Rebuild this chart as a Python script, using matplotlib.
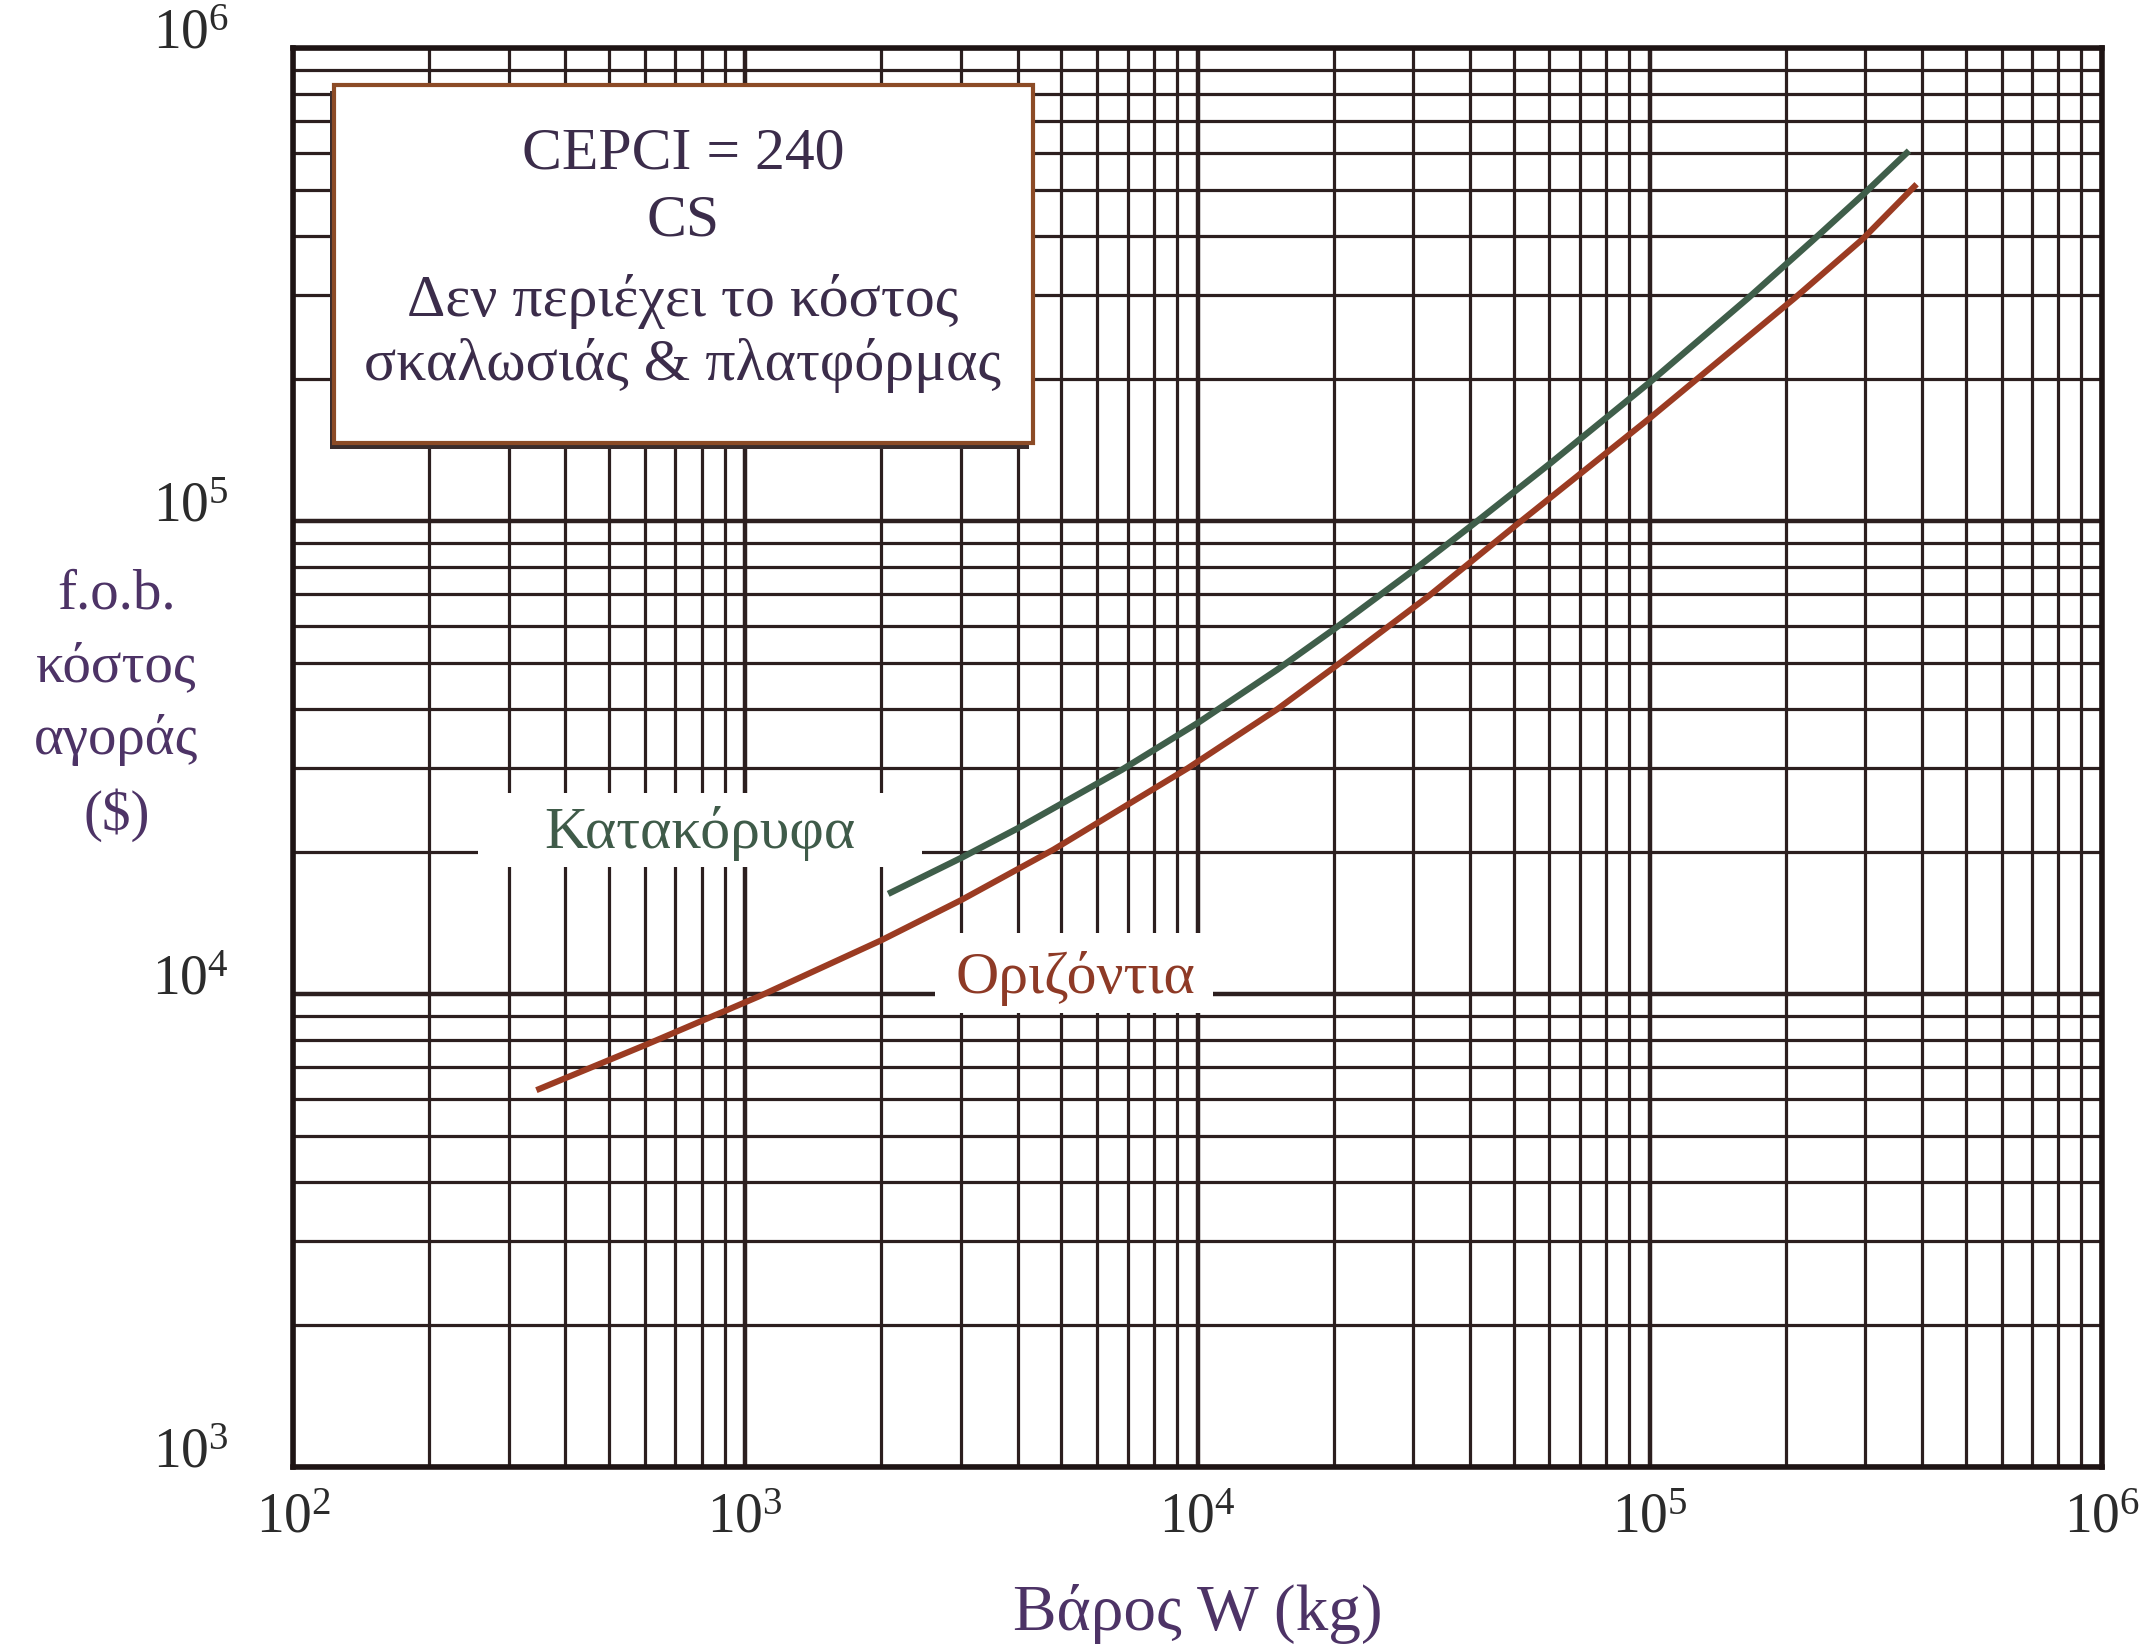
import matplotlib.pyplot as plt
from matplotlib.patches import Rectangle
from matplotlib.ticker import LogLocator, NullFormatter

plt.rcParams['font.family'] = ['Liberation Serif', 'DejaVu Serif']
plt.rcParams['mathtext.fontset'] = 'custom'
plt.rcParams['mathtext.rm'] = 'Liberation Serif'

# Οριζόντια (horizontal vessels): weight (kg) -> f.o.b. cost ($)
horiz_w = [350, 600, 1075, 2000, 3000, 4800, 9500, 15000, 20300, 32500,
           50600, 100000, 210000, 296000, 385000]
horiz_cost = [6300, 7800, 9900, 13000, 15800, 20200, 30000, 40000, 49500,
              69500, 98000, 165000, 297000, 395000, 510000]

# Κατακόρυφα (vertical vessels)
vert_w = [2100, 3000, 4000, 6800, 10000, 15000, 20000, 30500, 41000, 60000,
          100000, 165000, 228000, 297000, 370000]
vert_cost = [16400, 19400, 22400, 29800, 37400, 48500, 59000, 79600, 99000,
             132000, 196500, 296000, 390000, 491000, 600000]

x_ticks = [1e2, 1e3, 1e4, 1e5, 1e6]
x_ticklabels = [r'$\mathregular{10^{2}}$', r'$\mathregular{10^{3}}$',
                r'$\mathregular{10^{4}}$', r'$\mathregular{10^{5}}$',
                r'$\mathregular{10^{6}}$']
y_ticks = [1e3, 1e4, 1e5, 1e6]
y_ticklabels = [r'$\mathregular{10^{3}}$', r'$\mathregular{10^{4}}$',
                r'$\mathregular{10^{5}}$', r'$\mathregular{10^{6}}$']

box_lines = ['CEPCI = 240', 'CS', 'Δεν περιέχει το κόστος',
             'σκαλωσιάς & πλατφόρμας']

grid_col = '#2c1f1f'
purple = '#4d3366'

fig = plt.figure(figsize=(21.4, 16.46), dpi=100)
ax = fig.add_axes([0.137, 0.1087, 0.8452, 0.8621])
ax.set_xscale('log')
ax.set_yscale('log')
ax.set_xlim(1e2, 1e6)
ax.set_ylim(1e3, 1e6)

# πλέγμα
for axis in (ax.xaxis, ax.yaxis):
    axis.set_minor_locator(LogLocator(base=10, subs=range(2, 10), numticks=50))
    axis.set_minor_formatter(NullFormatter())
ax.set_axisbelow(True)
ax.grid(which='major', color=grid_col, lw=3.2)
ax.grid(which='minor', color=grid_col, lw=2.3)
for sp in ax.spines.values():
    sp.set_linewidth(4)
    sp.set_color('#1e1414')

ax.set_xticks(x_ticks, x_ticklabels, fontsize=40, color='#2b2b2b')
ax.set_yticks(y_ticks, y_ticklabels, fontsize=40, color='#2b2b2b',
              va='baseline')
ax.tick_params(which='both', length=0)
ax.tick_params(axis='x', pad=18)
ax.tick_params(axis='y', pad=46)

# καμπύλες
ax.plot(horiz_w, horiz_cost, color='#9b3b22', lw=4.4, zorder=4)
ax.plot(vert_w, vert_cost, color='#3f5e4a', lw=4.6, zorder=4)

# λευκά πλαίσια πίσω από τις ετικέτες
ax.add_patch(Rectangle((0.1023, 0.4228), 0.2454, 0.0522, transform=ax.transAxes,
                       fc='white', ec='none', zorder=2.5))
ax.add_patch(Rectangle((0.3549, 0.320), 0.1537, 0.0563, transform=ax.transAxes,
                       fc='white', ec='none', zorder=2.5))
ax.text(0.2250, 0.4362, 'Κατακόρυφα', transform=ax.transAxes, ha='center',
        va='baseline', fontsize=43, color='#3f5b49', zorder=5)
ax.text(0.4323, 0.334, 'Οριζόντια', transform=ax.transAxes, ha='center',
        va='baseline', fontsize=43, color='#8e3a26', zorder=5)

# πλαίσιο σημειώσεων
ax.add_patch(Rectangle((0.0205, 0.7175), 0.3864, 0.2523, transform=ax.transAxes,
                       fc='#3a2c2c', ec='none', zorder=5))
ax.add_patch(Rectangle((0.0227, 0.7216), 0.3864, 0.2523, transform=ax.transAxes,
                       fc='white', ec='#8c4b26', lw=3, zorder=6))
for txt, yb in zip(box_lines, [0.9154, 0.8682, 0.8115, 0.766]):
    ax.text(0.2155, yb, txt, transform=ax.transAxes, ha='center',
            va='baseline', fontsize=43, color='#3b2c4a', zorder=7)

ax.set_xlabel('Βάρος W (kg)', fontsize=47, color=purple, va='baseline')
ax.xaxis.set_label_coords(0.5, -0.1149)
ax.set_ylabel('f.o.b.\nκόστος\nαγοράς\n($)', fontsize=41, color=purple,
              rotation=0, ha='center', va='center', linespacing=1.52)
ax.yaxis.set_label_coords(-0.0978, 0.537)

plt.savefig('out.png', dpi=100)
